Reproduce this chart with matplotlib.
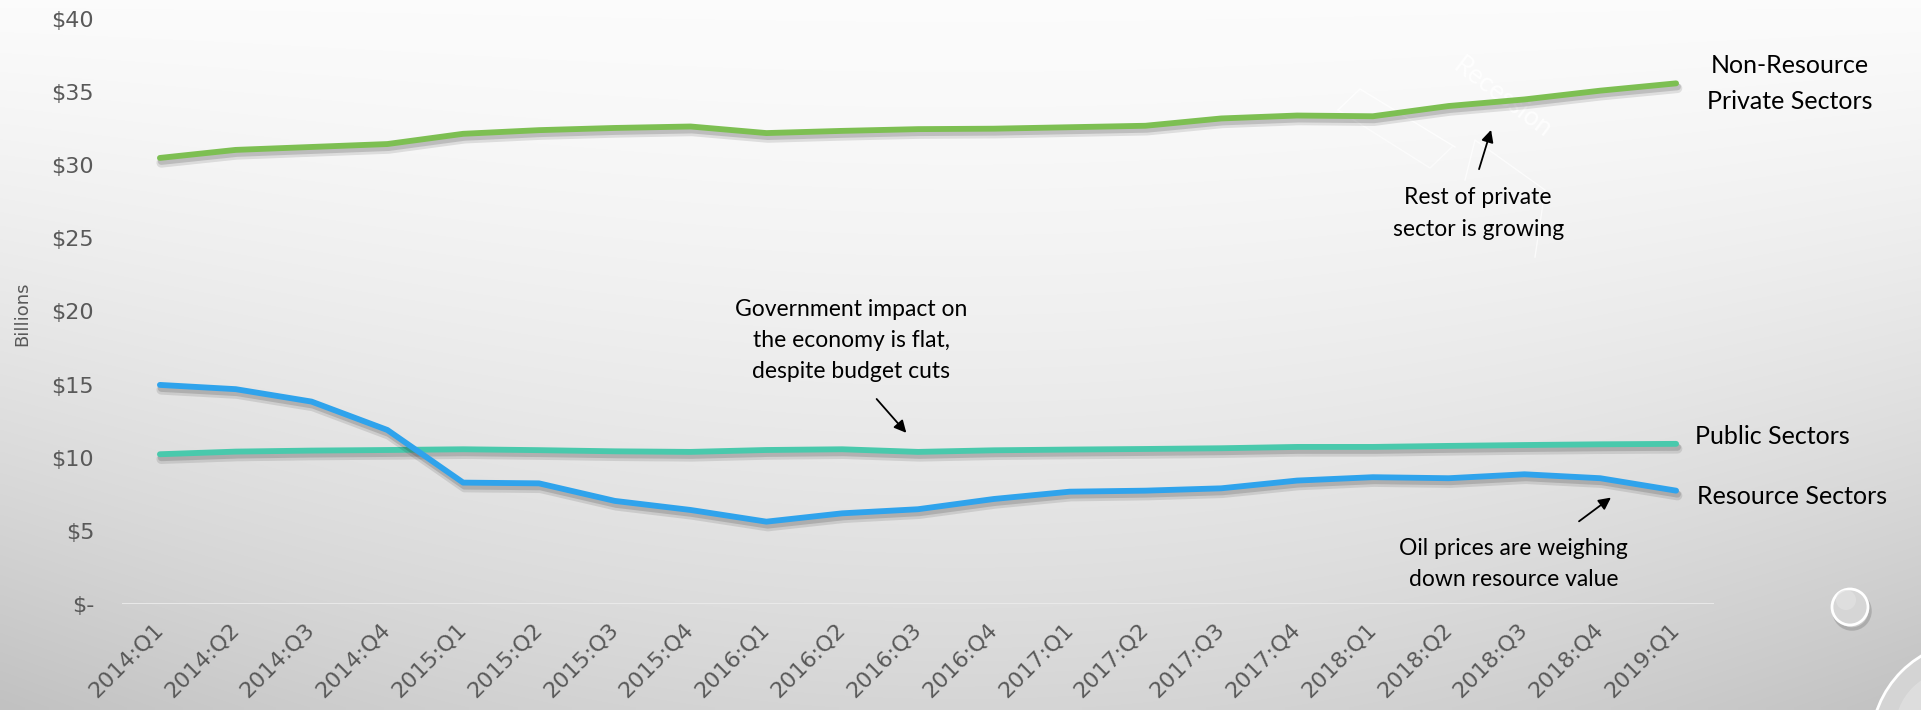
import numpy as np
import matplotlib
matplotlib.use("Agg")
import matplotlib.pyplot as plt
import matplotlib.patheffects as pe
from matplotlib.patches import Circle

# ---------------- data ----------------
quarters = ["2014:Q1", "2014:Q2", "2014:Q3", "2014:Q4",
            "2015:Q1", "2015:Q2", "2015:Q3", "2015:Q4",
            "2016:Q1", "2016:Q2", "2016:Q3", "2016:Q4",
            "2017:Q1", "2017:Q2", "2017:Q3", "2017:Q4",
            "2018:Q1", "2018:Q2", "2018:Q3", "2018:Q4",
            "2019:Q1"]
non_resource = [30.5, 31.05, 31.25, 31.45, 32.15, 32.4, 32.55, 32.65,
                32.2, 32.35, 32.47, 32.5, 32.6, 32.7, 33.2, 33.4,
                33.35, 34.05, 34.5, 35.1, 35.6]
public = [10.24, 10.42, 10.49, 10.53, 10.58, 10.52, 10.44, 10.4,
          10.53, 10.58, 10.4, 10.51, 10.56, 10.6, 10.65, 10.74,
          10.74, 10.81, 10.87, 10.92, 10.95]
resource = [14.98, 14.69, 13.84, 11.9, 8.3, 8.25, 7.05, 6.43,
            5.63, 6.2, 6.48, 7.18, 7.68, 7.75, 7.91, 8.44,
            8.67, 8.6, 8.87, 8.6, 7.75]
y_ticks = [0, 5, 10, 15, 20, 25, 30, 35, 40]
y_ticklabels = ["$-", "$5", "$10", "$15", "$20", "$25", "$30", "$35", "$40"]

GREEN = "#7dbf52"
TEAL = "#49c9ac"
BLUE = "#2fa3ec"

W, H = 1921, 710
fig = plt.figure(figsize=(W / 100, H / 100), dpi=100)

# ---------------- background ----------------
bg = fig.add_axes([0, 0, 1, 1])
bg.set_xlim(0, W)
bg.set_ylim(H, 0)
bg.axis("off")
yy, xx = np.mgrid[0:H:5, 0:W:5]
val = 0.985 - 0.15 * (yy / H) ** 1.5 - 0.08 * ((np.abs(xx - 960) / 960) ** 2) * (yy / H)
img = np.dstack([val, val, val])
bg.imshow(img, extent=[0, W, H, 0], aspect="auto", interpolation="bilinear", zorder=0)

# faint watermark + white outline shapes
bg.text(1502, 98, "Recession", color="white", alpha=0.85, fontsize=19,
        family="Lato", rotation=-37, ha="center", va="center", zorder=1)
bg.plot([1338, 1360, 1455], [110, 89, 147], color="white", lw=1, alpha=0.8, zorder=1)
bg.plot([1338, 1430, 1452], [110, 168, 147], color="white", lw=1, alpha=0.6, zorder=1)
bg.plot([1465, 1475, 1545, 1535], [180, 140, 190, 257], color="white", lw=1, alpha=0.7, zorder=1)

# bubbles
bg.add_patch(Circle((1852, 611), 18, facecolor="#c9c9c9", edgecolor="#8f8f8f", lw=2.5, alpha=0.5, zorder=1))
bg.add_patch(Circle((1850, 607), 18, facecolor="#d6d6d6", edgecolor="white", lw=2, zorder=2))
bg.add_patch(Circle((1846, 600), 10, facecolor="#e2e2e2", edgecolor="none", alpha=0.7, zorder=2))
bg.add_patch(Circle((1975, 745), 104, facecolor="#d4d4d4", edgecolor="white", lw=2, zorder=2))
bg.add_patch(Circle((1955, 730), 60, facecolor="#e4e4e4", edgecolor="none", alpha=0.6, zorder=2))

# ---------------- main axes ----------------
left_px, right_px, top_px, bot_px = 122, 1714, 19, 604
ax = fig.add_axes([left_px / W, (H - bot_px) / H, (right_px - left_px) / W, (bot_px - top_px) / H])
ax.patch.set_alpha(0)
for s in ax.spines.values():
    s.set_visible(False)

x = np.arange(len(quarters))
shadow = [pe.SimpleLineShadow(offset=(1, -3.5), shadow_color="black", alpha=0.10, linewidth=7),
          pe.SimpleLineShadow(offset=(1, -2.5), shadow_color="black", alpha=0.14, linewidth=5),
          pe.Normal()]
for series, col in [(non_resource, GREEN), (public, TEAL), (resource, BLUE)]:
    ax.plot(x, series, color=col, lw=4.2, solid_capstyle="round", solid_joinstyle="round",
            path_effects=shadow, zorder=3)

ax.axhline(0, color="#ebebeb", lw=2, zorder=2)
ax.set_xlim(-0.5, len(quarters) - 0.5)
ax.set_ylim(0, 40)
ax.set_yticks(y_ticks)
ax.set_yticklabels(y_ticklabels)
ax.set_xticks(x)
ax.set_xticklabels(quarters, rotation=45, ha="right", va="center", rotation_mode="anchor")
ax.tick_params(axis="y", length=0, pad=20, labelsize=16, labelcolor="#595959")
ax.tick_params(axis="x", length=0, pad=16, labelsize=16, labelcolor="#595959")
for lab in ax.get_xticklabels() + ax.get_yticklabels():
    lab.set_family("DejaVu Sans")

fig.text(22 / W, 1 - 314 / H, "Billions", rotation=90, ha="center", va="center",
         fontsize=13, color="#595959", family="DejaVu Sans")

# ---------------- annotations ----------------
afont = dict(family="Lato", fontsize=16.5, color="black", ha="center", va="center",
             linespacing=1.6)
arrow = dict(arrowstyle="-|>", color="black", lw=1.3, mutation_scale=18)

ax.text(9.12, 18.0, "Government impact on\nthe economy is flat,\ndespite budget cuts", **afont)
ax.annotate("", xy=(9.87, 11.56), xytext=(9.43, 14.16), arrowprops=dict(arrow))

ax.text(17.39, 26.7, "Rest of private\nsector is growing", **afont)
ax.annotate("", xy=(17.57, 32.6), xytext=(17.39, 29.55), arrowprops=dict(arrow))

ax.text(17.86, 2.74, "Oil prices are weighing\ndown resource value", **afont)
ax.annotate("", xy=(19.17, 7.39), xytext=(18.69, 5.54), arrowprops=dict(arrow))

sfont = dict(family="Lato", fontsize=18, color="black", va="center", clip_on=False)
ax.text(21.5, 35.6, "Non-Resource\nPrivate Sectors", ha="center", linespacing=1.65, **sfont)
ax.text(20.25, 11.42, "Public Sectors", ha="left", **sfont)
ax.text(20.28, 7.32, "Resource Sectors", ha="left", **sfont)

fig.savefig("out.png", dpi=100)
